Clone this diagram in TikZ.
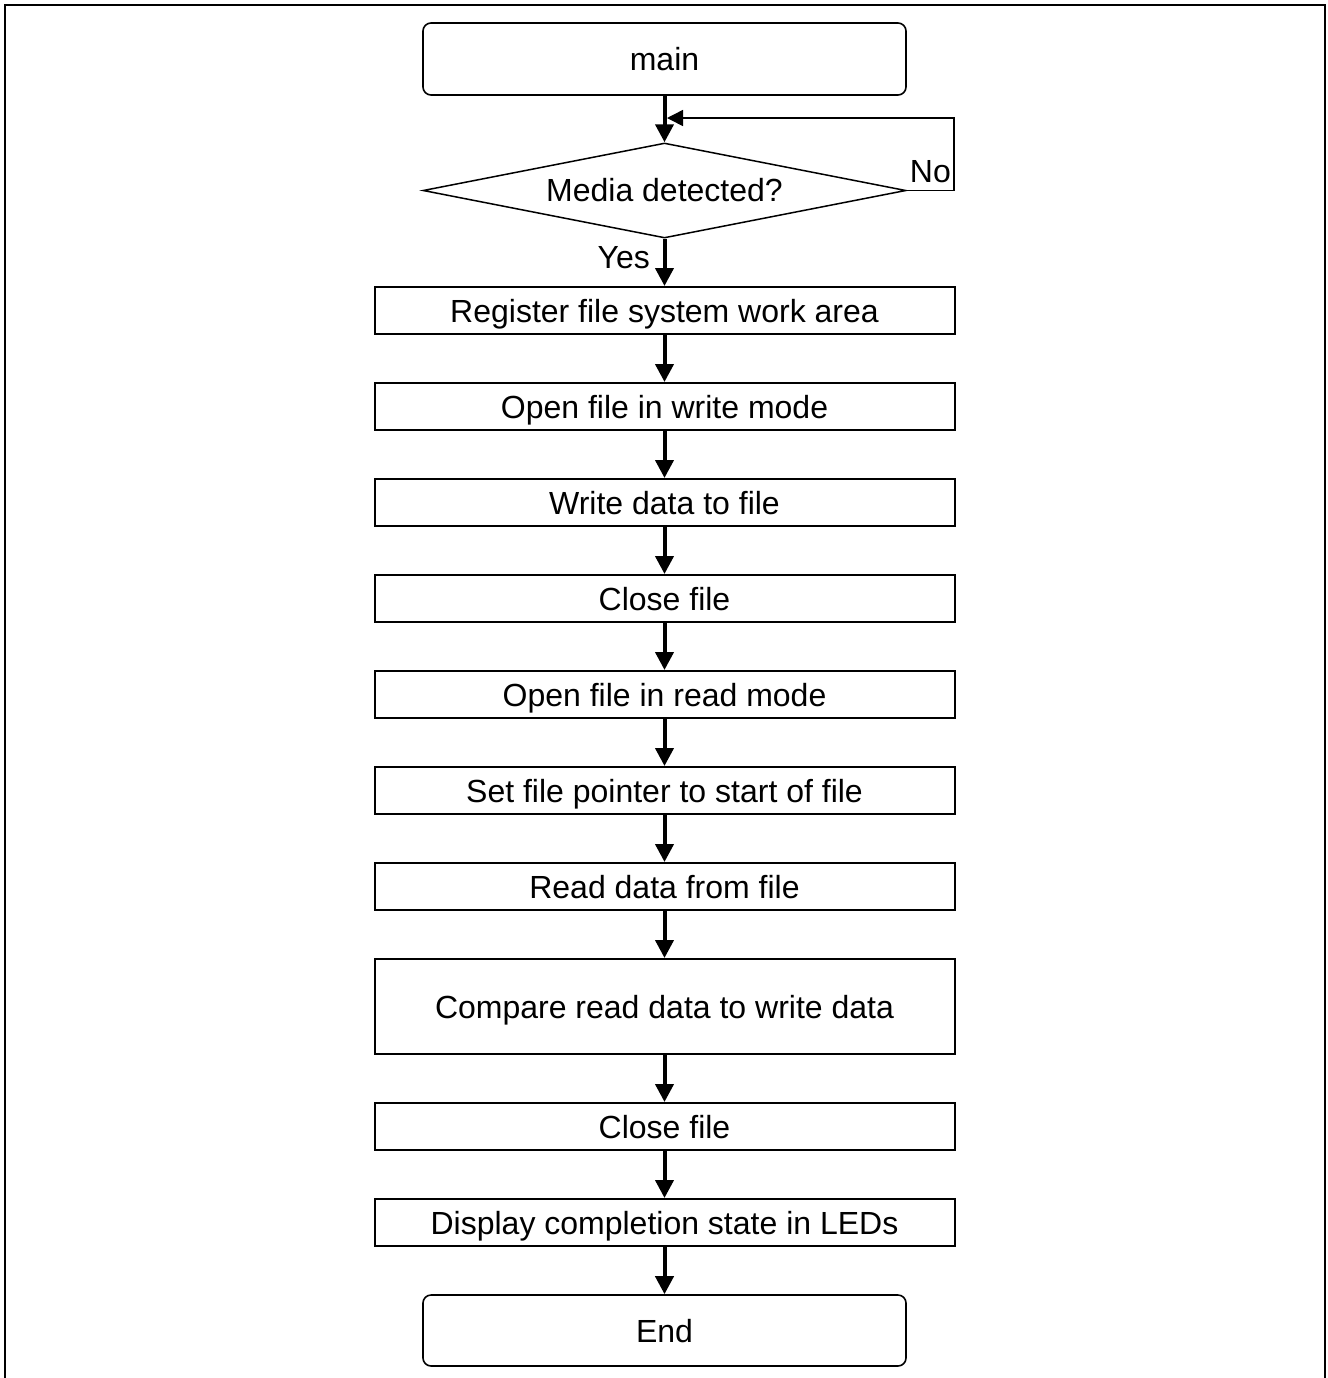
\documentclass[tikz,border=0pt]{standalone}
\usepackage{fontspec}
\setmainfont{Liberation Sans}
\usetikzlibrary{shapes.geometric,arrows.meta}
\begin{document}
\begin{tikzpicture}[x=0.5pt,y=-0.5pt,
  every node/.style={font=\fontsize{16}{19}\selectfont},
  proc/.style={draw,line width=1pt,minimum width=290pt,minimum height=23.5pt,inner sep=0pt,text height=11.6pt,text depth=0pt},
  term/.style={draw,line width=0.8pt,rounded corners=4pt,minimum width=241.5pt,minimum height=36pt,inner sep=0pt,text height=11.6pt,text depth=0pt},
  flow/.style={line width=2pt,-{Triangle[width=9pt,length=9pt]}}]
  \useasboundingbox (0,0) rectangle (1328,1378);
  \draw[line width=1.4pt] (5,1395) -- (5,5) -- (1325,5) -- (1325,1395);
  \node[term] (main) at (664.5,59) {main};
  \node[draw,diamond,aspect=5.08,line width=0.75pt,minimum width=241.5pt,minimum height=47.5pt,inner sep=0pt] (media) at (664.5,190.5) {Media detected?};
  \node[proc] (reg) at (664.5,310.5) {Register file system work area};
  \node[proc] (wopen) at (664.5,406.5) {Open file in write mode};
  \node[proc] (wdata) at (664.5,502.5) {Write data to file};
  \node[proc] (wclose) at (664.5,598.5) {Close file};
  \node[proc] (ropen) at (664.5,694.5) {Open file in read mode};
  \node[proc] (seek) at (664.5,790.5) {Set file pointer to start of file};
  \node[proc] (rdata) at (664.5,886.5) {Read data from file};
  \node[proc,minimum height=47.5pt] (cmp) at (664.5,1006.5) {Compare read data to write data};
  \node[proc] (rclose) at (664.5,1126.5) {Close file};
  \node[proc] (leds) at (664.5,1222.5) {Display completion state in LEDs};
  \node[term,minimum height=35.5pt] (fin) at (664.5,1330.5) {End};
  \coordinate (nocorner) at (954,118);
  \coordinate (noend) at (667,118);
  \draw[flow] (main.south) -- (media.north);
  \draw[line width=0.75pt,-{Triangle[width=8pt,length=8pt]}] (media.east) -- node[above] (no) {No} (media.east -| nocorner) -- (nocorner) -- (noend);
  \draw[flow] (media.south) -- node[pos=0.4,left,xshift=-3pt] (yes) {Yes} (reg.north);
  \foreach \a/\b in {reg/wopen, wopen/wdata, wdata/wclose, wclose/ropen, ropen/seek, seek/rdata, rdata/cmp, cmp/rclose, rclose/leds, leds/fin}
    \draw[flow] (\a.south) -- (\b.north);
\end{tikzpicture}
\end{document}
